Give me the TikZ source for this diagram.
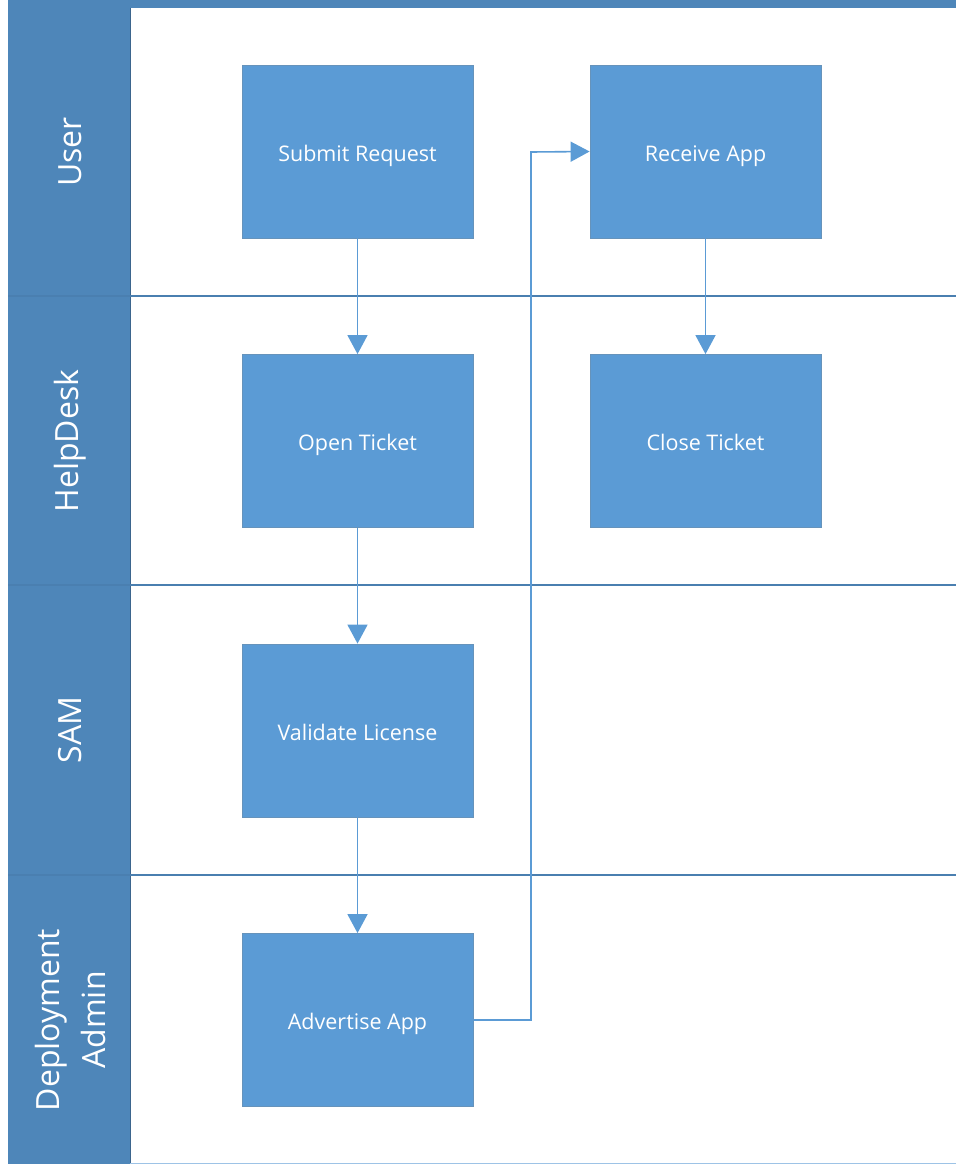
\documentclass[tikz,border=0pt]{standalone}
\usepackage{fontspec}
\setmainfont{Open Sans}
\usetikzlibrary{arrows.meta}
\definecolor{hdr}{HTML}{4E86B9}
\definecolor{boxfill}{HTML}{5B9BD5}
\definecolor{sepline}{HTML}{4A7FB0}
\begin{document}
\begin{tikzpicture}[x=1pt,y=-1pt,
  stepbox/.style={draw=boxfill!70!gray, line width=0.8pt, fill=boxfill, minimum width=231pt, minimum height=173pt, inner sep=0pt, text=white, text height=19pt, text depth=0pt, font=\fontsize{21.5}{26}\selectfont},
  lanelabel/.style={text=white, rotate=90, font=\fontsize{32}{46}\selectfont, align=center},
  flow/.style={draw=boxfill, line width=1.6pt, -{Triangle[length=19pt,width=20pt]}}]
\useasboundingbox (0,0) rectangle (956,1164);
% top bar
\fill[hdr] (8,0) rectangle (956,8);
% header column
\fill[hdr] (8,8) rectangle (130,1164);
\draw[sepline!80!black, line width=0.6pt] (130,8) -- (130,1164);
% lane separators
\foreach \yy in {296,585,875} {
  \draw[sepline, line width=1.6pt] (8,\yy) -- (956,\yy);
}
\draw[boxfill!60, line width=0.8pt] (130,1163) -- (956,1163);
% lane labels
\node[lanelabel] (lu) at (70,152) {User};
\node[lanelabel] (lh) at (70,441) {HelpDesk};
\node[lanelabel] (ls) at (70,730) {SAM};
\node[lanelabel] (ld) at (70,1020) {Deployment\\Admin};
% boxes
\node[stepbox] (submit) at (357.5,151.5) {Submit Request};
\node[stepbox] (receive) at (705.5,151.5) {Receive App};
\node[stepbox] (open) at (357.5,441) {Open Ticket};
\node[stepbox] (close) at (705.5,441) {Close Ticket};
\node[stepbox] (validate) at (357.5,730.5) {Validate License};
\node[stepbox] (advertise) at (357.5,1020) {Advertise App};
% connectors
\draw[flow] (submit) -- (open);
\draw[flow] (open) -- (validate);
\draw[flow] (validate) -- (advertise);
\draw[flow] (receive) -- (close);
\coordinate (bendlow) at (531,1020);
\coordinate (bendhigh) at (531,152);
\draw[flow] (advertise.east) -- (bendlow) -- (bendhigh) -- (receive.west);
\end{tikzpicture}
\end{document}
